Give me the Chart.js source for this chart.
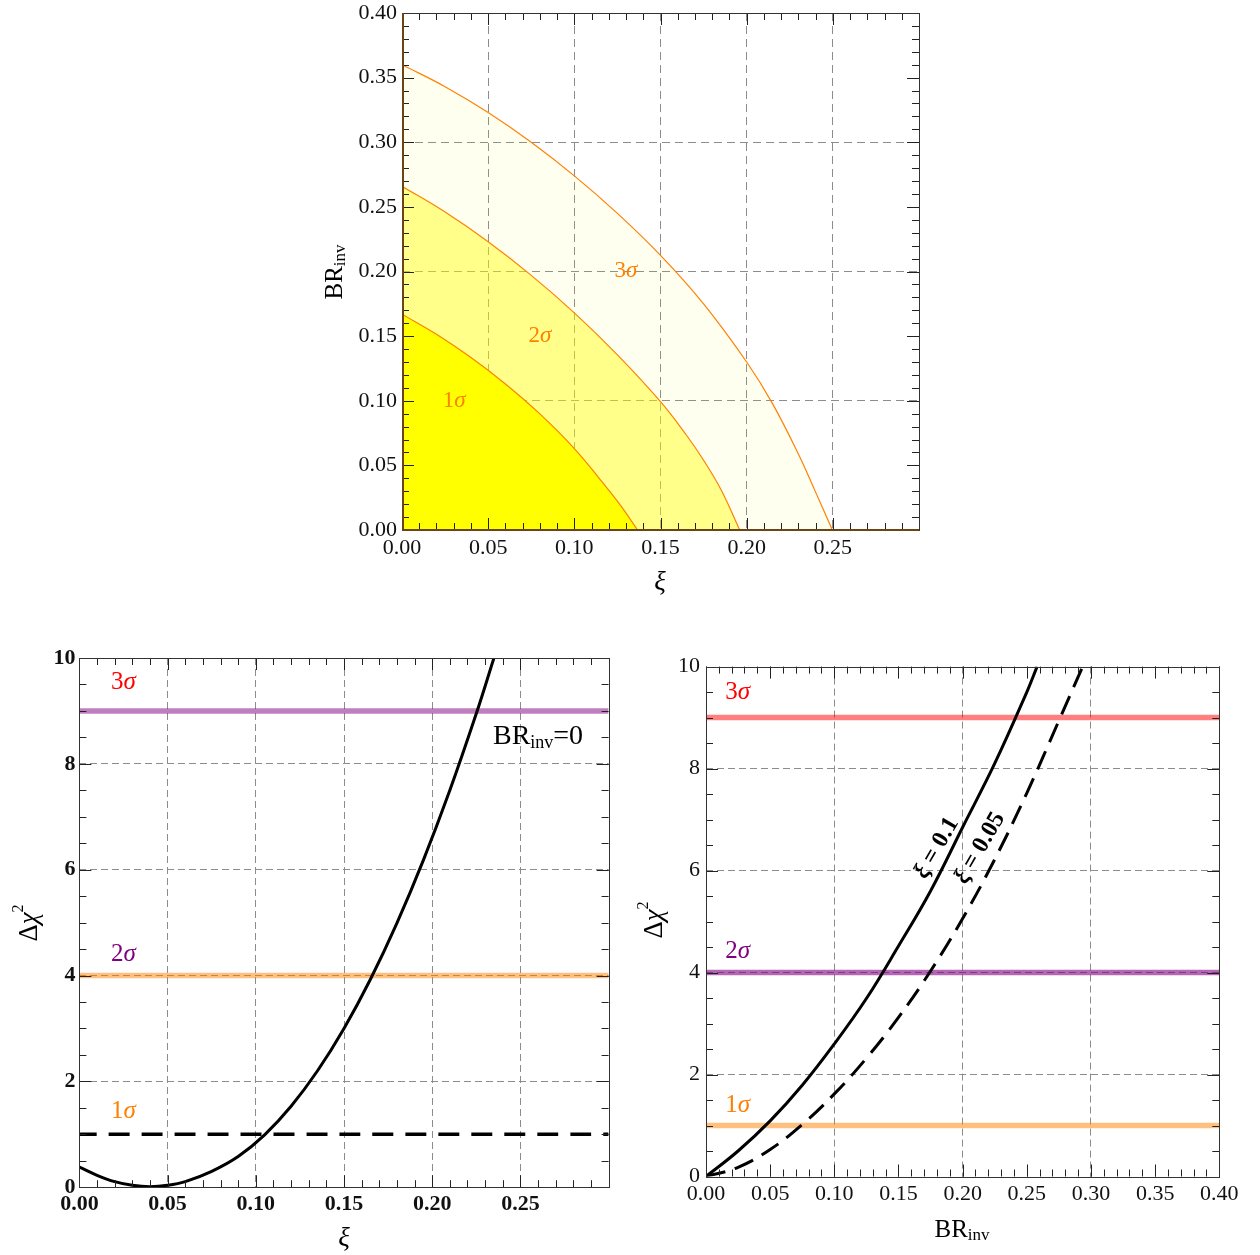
<!DOCTYPE html>
<html>
<head>
<meta charset="utf-8">
<script src="https://cdn.jsdelivr.net/npm/chart.js@4.4.1/dist/chart.umd.min.js"></script>
<style>
  body { margin: 0; background: #fff; width: 1260px; height: 1255px; position: relative; overflow: hidden; }
  canvas { position: absolute; }
</style>
</head>
<body>
<canvas id="contour" width="660" height="630" style="left:300px;top:-20px"></canvas>
<canvas id="scanXi" width="630" height="625" style="left:0px;top:630px"></canvas>
<canvas id="scanBr" width="630" height="625" style="left:630px;top:630px"></canvas>
<script>
// top panel: boundaries of the allowed regions in (xi, BR_inv)
const xiOneSigma = [0, 0.02, 0.04, 0.06, 0.08, 0.10, 0.115, 0.127, 0.1367];
const brOneSigma = [0.167, 0.1514, 0.1334, 0.113, 0.0898, 0.063, 0.039, 0.0186, 0];
const xiTwoSigma = [0, 0.025, 0.05, 0.075, 0.10, 0.125, 0.15, 0.165, 0.175, 0.185, 0.196];
const brTwoSigma = [0.266, 0.246, 0.223, 0.197, 0.168, 0.1355, 0.0993, 0.0735, 0.054, 0.0315, 0];
const xiThreeSigma = [0, 0.025, 0.05, 0.075, 0.10, 0.125, 0.15, 0.175, 0.20, 0.215, 0.23, 0.24, 0.2497];
const brThreeSigma = [0.360, 0.343, 0.323, 0.300, 0.274, 0.245, 0.2125, 0.175, 0.130, 0.0978, 0.0588, 0.0293, 0];

// bottom left: delta chi2 vs xi, BR_inv = 0
const xiScan = [0, 0.01, 0.02, 0.03, 0.04, 0.05, 0.06, 0.075, 0.09, 0.105, 0.12, 0.135, 0.15, 0.165, 0.18, 0.195, 0.21, 0.225, 0.235];
const chi2XiScan = [0.38, 0.225, 0.105, 0.035, 0.01, 0.035, 0.105, 0.30, 0.58, 0.99, 1.53, 2.20, 3.00, 3.93, 4.99, 6.18, 7.50, 8.95, 10.0];

// bottom right: delta chi2 vs BR_inv for two xi values
const brScanA = [0, 0.025, 0.05, 0.075, 0.10, 0.125, 0.15, 0.175, 0.20, 0.225, 0.25, 0.258];
const chi2XiTenth = [0, 0.5, 1.09, 1.79, 2.6, 3.49, 4.52, 5.6, 6.85, 8.1, 9.5, 10.0];
const brScanB = [0, 0.025, 0.05, 0.075, 0.10, 0.125, 0.15, 0.175, 0.20, 0.225, 0.25, 0.275, 0.2935];
const chi2XiTwentieth = [0, 0.18, 0.53, 1.02, 1.62, 2.32, 3.12, 4.03, 5.06, 6.22, 7.52, 8.94, 10.0];

// confidence levels
const sigmaLevels = [1, 4, 9];
const sigmaNames = ['1', '2', '3'];

Chart.defaults.font.family = '"Liberation Serif", "Times New Roman", serif';
Chart.defaults.color = '#111';

const SERIF = '"Liberation Serif", serif';
const gridGray = '#8c8c8c';

function pts(xs, ys) {
  return xs.map((x, i) => ({x: x, y: ys[i]}));
}

function isMultiple(v, step) {
  const r = v / step;
  return Math.abs(r - Math.round(r)) < 1e-6;
}

function rich(ctx, parts, x, y, angle, color) {
  ctx.save();
  ctx.translate(x, y);
  if (angle) ctx.rotate(angle * Math.PI / 180);
  ctx.fillStyle = color;
  ctx.textBaseline = 'middle';
  ctx.textAlign = 'left';
  let total = 0;
  parts.forEach(p => { ctx.font = p[1]; total += ctx.measureText(p[0]).width; });
  let cx = -total / 2;
  parts.forEach(p => {
    ctx.font = p[1];
    ctx.fillText(p[0], cx, p[2] || 0);
    cx += ctx.measureText(p[0]).width;
  });
  ctx.restore();
}

// mathematica-like frame: inward ticks on four sides, plus text notes
const framePlugin = {
  id: 'frame',
  afterDatasetsDraw(chart, args, o) {
    const ctx = chart.ctx;
    const a = chart.chartArea;
    const xs = chart.scales.x, ys = chart.scales.y;
    const al = v => Math.round(v) + 0.5;
    ctx.save();
    ctx.strokeStyle = '#222';
    ctx.lineWidth = 1;
    ctx.beginPath();
    function xTicks(step, len) {
      const n = Math.round((xs.max - xs.min) / step);
      for (let i = 0; i <= n; i++) {
        const p = al(xs.getPixelForValue(xs.min + i * step));
        ctx.moveTo(p, a.bottom); ctx.lineTo(p, a.bottom - len);
        ctx.moveTo(p, a.top); ctx.lineTo(p, a.top + len);
      }
    }
    function yTicks(step, len) {
      const n = Math.round((ys.max - ys.min) / step);
      for (let i = 0; i <= n; i++) {
        const p = al(ys.getPixelForValue(ys.min + i * step));
        ctx.moveTo(a.left, p); ctx.lineTo(a.left + len, p);
        ctx.moveTo(a.right, p); ctx.lineTo(a.right - len, p);
      }
    }
    xTicks(o.xMinor, 7);
    xTicks(o.xMajor, 12);
    yTicks(o.yMinor, 7);
    yTicks(o.yMajor, 12);
    ctx.stroke();
    ctx.strokeStyle = '#333';
    ctx.strokeRect(al(a.left), al(a.top), Math.round(a.right) - Math.round(a.left), Math.round(a.bottom) - Math.round(a.top));
    if (o.axisColor) {
      ctx.strokeStyle = o.axisColor;
      ctx.lineWidth = 2;
      ctx.beginPath();
      ctx.moveTo(Math.round(a.left) + 1, a.top);
      ctx.lineTo(Math.round(a.left) + 1, Math.round(a.bottom));
      ctx.lineTo(a.right, Math.round(a.bottom));
      ctx.stroke();
    }
    (o.notes || []).forEach(n => {
      const px = n.px !== undefined ? n.px : xs.getPixelForValue(n.x);
      const py = n.py !== undefined ? n.py : ys.getPixelForValue(n.y);
      rich(ctx, n.parts, px, py, n.angle || 0, n.color || '#000');
    });
    ctx.restore();
  }
};
Chart.register(framePlugin);

function pinArea(W, H, area) {
  return {
    padding: {left: 0, top: area.top, right: W - area.right, bottom: 0},
    yWidth: area.left,
    xHeight: H - area.bottom
  };
}

function sigmaLabel(i, size) {
  return [[sigmaNames[i], size + 'px ' + SERIF], ['σ', 'italic ' + size + 'px ' + SERIF]];
}

const brInvParts = [['BR', '25px ' + SERIF], ['inv', '17px ' + SERIF, 6]];
const dchi2Parts = [['Δ', '27px ' + SERIF], ['χ', 'italic 27px ' + SERIF], ['2', '16px ' + SERIF, -11]];
const xiParts = [['ξ', 'italic 27px ' + SERIF]];

function baseOptions(pin, xCfg, yCfg, frame) {
  return {
    responsive: false,
    animation: false,
    devicePixelRatio: 1,
    layout: {padding: pin.padding},
    elements: {point: {radius: 0}, line: {tension: 0.4}},
    plugins: {legend: {display: false}, tooltip: {enabled: false}, frame: frame},
    scales: {
      x: {
        type: 'linear', min: xCfg.min, max: xCfg.max,
        afterFit: s => { s.height = pin.xHeight; },
        border: {display: false, dash: xCfg.dash},
        grid: {drawTicks: false, lineWidth: 1,
               color: c => (c.tick && xCfg.gridAt(c.tick.value)) ? gridGray : 'rgba(0,0,0,0)'},
        ticks: {stepSize: xCfg.step, autoSkip: false, maxRotation: 0, padding: xCfg.pad,
                font: xCfg.font, color: '#111', callback: xCfg.label}
      },
      y: {
        type: 'linear', min: yCfg.min, max: yCfg.max,
        afterFit: s => { s.width = pin.yWidth; },
        border: {display: false, dash: yCfg.dash},
        grid: {drawTicks: false, lineWidth: 1,
               color: c => (c.tick && yCfg.gridAt(c.tick.value)) ? gridGray : 'rgba(0,0,0,0)'},
        ticks: {stepSize: yCfg.step, autoSkip: false, padding: yCfg.pad,
                font: yCfg.font, color: '#111', callback: yCfg.label}
      }
    }
  };
}

// ---------- top: contour regions ----------
const pinTop = pinArea(660, 630, {left: 102, top: 33, right: 619, bottom: 550});
new Chart('contour', {
  type: 'line',
  data: {
    datasets: [
      {data: pts(xiOneSigma, brOneSigma), borderColor: '#ff8000', borderWidth: 1.2,
       backgroundColor: 'rgb(255,255,0)', fill: 'origin'},
      {data: pts(xiTwoSigma, brTwoSigma), borderColor: '#ff8000', borderWidth: 1.2,
       backgroundColor: 'rgba(255,255,0,0.43)', fill: 'origin'},
      {data: pts(xiThreeSigma, brThreeSigma), borderColor: '#ff8000', borderWidth: 1.2,
       backgroundColor: 'rgba(255,255,0,0.06)', fill: 'origin'}
    ]
  },
  options: baseOptions(pinTop,
    {min: 0, max: 0.3, step: 0.05, pad: 5, dash: [8, 5], font: {size: 22},
     gridAt: v => v > 0.001 && v < 0.299,
     label: v => Math.abs(v - 0.3) < 1e-9 ? '' : v.toFixed(2)},
    {min: 0, max: 0.4, step: 0.05, pad: 5, dash: [8, 5], font: {size: 22},
     gridAt: v => v > 0.001 && v < 0.399 && isMultiple(v, 0.1),
     label: v => v.toFixed(2)},
    {xMajor: 0.05, xMinor: 0.01, yMajor: 0.05, yMinor: 0.01, axisColor: 'rgb(105,70,20)',
     notes: [
       {x: 0.0303, y: 0.100, parts: sigmaLabel(0, 23), color: '#ff8000'},
       {x: 0.080, y: 0.150, parts: sigmaLabel(1, 23), color: '#ff8000'},
       {x: 0.130, y: 0.2008, parts: sigmaLabel(2, 23), color: '#ff8000'},
       {px: 35, py: 292, angle: -90, parts: brInvParts},
       {px: 360, py: 603, parts: xiParts}
     ]})
});

// ---------- bottom left: scan in xi ----------
const pinLeft = pinArea(630, 625, {left: 79.4, top: 28, right: 608.6, bottom: 557.2});
new Chart('scanXi', {
  type: 'line',
  data: {
    datasets: [
      {data: pts(xiScan, chi2XiScan), borderColor: '#000', borderWidth: 3, fill: false},
      {data: pts([0, 0.3], [sigmaLevels[0], sigmaLevels[0]]), borderColor: '#000', borderWidth: 3.5,
       borderDash: [21, 12], borderDashOffset: 4, fill: false},
      {data: pts([0, 0.3], [sigmaLevels[1], sigmaLevels[1]]), borderColor: 'rgba(255,128,0,0.5)',
       borderWidth: 5.5, fill: false},
      {data: pts([0, 0.3], [sigmaLevels[2], sigmaLevels[2]]), borderColor: 'rgba(128,0,128,0.5)',
       borderWidth: 5.5, fill: false}
    ]
  },
  options: baseOptions(pinLeft,
    {min: 0, max: 0.3, step: 0.05, pad: 4, dash: [7, 4], font: {size: 22, weight: 'bold'},
     gridAt: v => v > 0.001 && v < 0.299,
     label: v => Math.abs(v - 0.3) < 1e-9 ? '' : v.toFixed(2)},
    {min: 0, max: 10, step: 2, pad: 4, dash: [7, 4], font: {size: 22, weight: 'bold'},
     gridAt: v => v > 0 && v < 10,
     label: v => String(v)},
    {xMajor: 0.05, xMinor: 0.01, yMajor: 2, yMinor: 0.5,
     notes: [
       {x: 0.0249, y: 9.53, parts: sigmaLabel(2, 25), color: '#ff0000'},
       {x: 0.0249, y: 4.40, parts: sigmaLabel(1, 25), color: '#800080'},
       {x: 0.0249, y: 1.43, parts: sigmaLabel(0, 25), color: '#ff8000'},
       {x: 0.260, y: 8.51, parts: [['BR', '28px ' + SERIF], ['inv', '18px ' + SERIF, 6], ['=0', '28px ' + SERIF]]},
       {px: 30, py: 293, angle: -90, parts: dchi2Parts},
       {px: 344, py: 609, parts: xiParts}
     ]})
});

// ---------- bottom right: scan in BR_inv ----------
const pinRight = pinArea(630, 625, {left: 76, top: 36.6, right: 589.3, bottom: 546.5});
new Chart('scanBr', {
  type: 'line',
  data: {
    datasets: [
      {data: pts(brScanA, chi2XiTenth), borderColor: '#000', borderWidth: 3, fill: false},
      {data: pts(brScanB, chi2XiTwentieth), borderColor: '#000', borderWidth: 3,
       borderDash: [20, 10], fill: false},
      {data: pts([0, 0.4], [sigmaLevels[0], sigmaLevels[0]]), borderColor: 'rgba(255,128,0,0.5)',
       borderWidth: 5.5, fill: false},
      {data: pts([0, 0.4], [sigmaLevels[1], sigmaLevels[1]]), borderColor: 'rgba(128,0,128,0.6)',
       borderWidth: 5.5, fill: false},
      {data: pts([0, 0.4], [sigmaLevels[2], sigmaLevels[2]]), borderColor: 'rgba(255,0,0,0.5)',
       borderWidth: 5.5, fill: false}
    ]
  },
  options: baseOptions(pinRight,
    {min: 0, max: 0.4, step: 0.05, pad: 5, dash: [7, 4], font: {size: 22},
     gridAt: v => v > 0.001 && v < 0.399 && isMultiple(v, 0.1),
     label: v => v.toFixed(2)},
    {min: 0, max: 10, step: 2, pad: 6, dash: [7, 4], font: {size: 22},
     gridAt: v => v > 0 && v < 10,
     label: v => String(v)},
    {xMajor: 0.05, xMinor: 0.01, yMajor: 2, yMinor: 0.5,
     notes: [
       {x: 0.0247, y: 9.50, parts: sigmaLabel(2, 25), color: '#ff0000'},
       {x: 0.0247, y: 4.41, parts: sigmaLabel(1, 25), color: '#800080'},
       {x: 0.0247, y: 1.39, parts: sigmaLabel(0, 25), color: '#ff8000'},
       {x: 0.1798, y: 6.44, angle: -60,
        parts: [['ξ', 'bold italic 24px ' + SERIF], [' = 0.1', 'bold 24px ' + SERIF]]},
       {x: 0.2135, y: 6.44, angle: -60,
        parts: [['ξ', 'bold italic 24px ' + SERIF], [' = 0.05', 'bold 24px ' + SERIF]]},
       {px: 25, py: 290, angle: -90, parts: dchi2Parts},
       {px: 332, py: 600, parts: brInvParts}
     ]})
});
</script>
</body>
</html>
